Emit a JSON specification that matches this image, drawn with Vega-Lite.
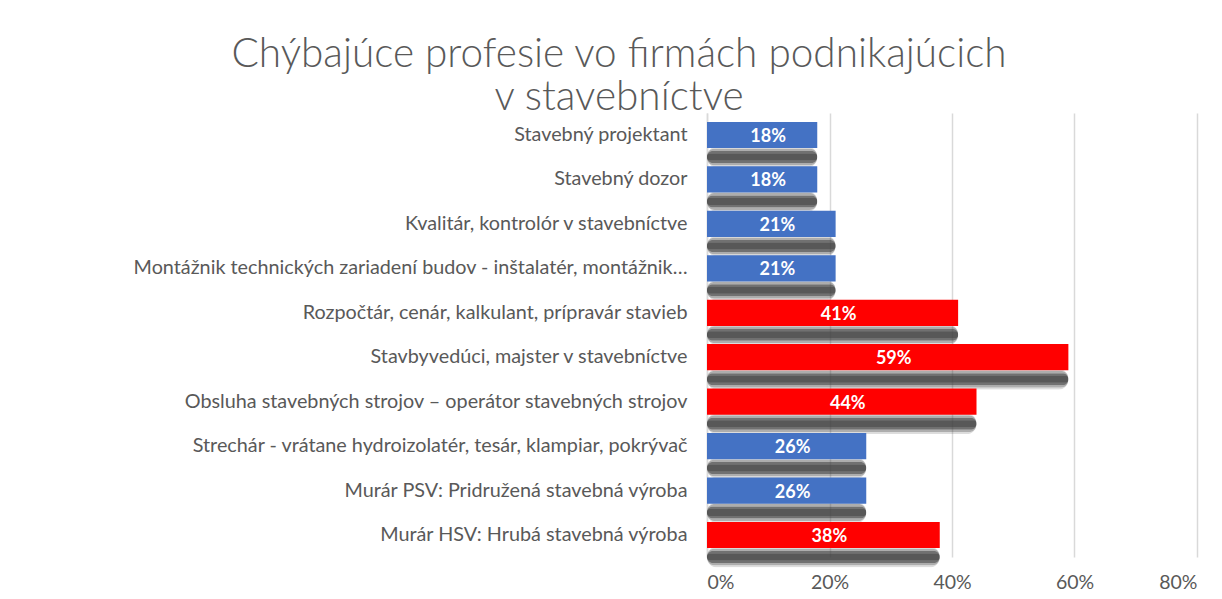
{
  "$schema": "https://vega.github.io/schema/vega-lite/v6.json",
  "width": 490,
  "height": 444,
  "autosize": {"type": "none"},
  "padding": {"left": 707, "top": 113, "right": 25, "bottom": 42},
  "background": "white",
  "config": {"view": {"stroke": null}},
  "title": {
    "text": ["Chýbajúce profesie vo firmách podnikajúcich", "v stavebníctve"],
    "font": "Lato",
    "fontWeight": 300,
    "fontSize": 40.5,
    "color": "#595959",
    "anchor": "middle",
    "dx": -333,
    "offset": -5,
    "lineHeight": 43
  },
  "data": {
    "values": [
      {"profesia": "Stavebný projektant", "hodnota": 0.18, "zvyraznene": "nie"},
      {"profesia": "Stavebný dozor", "hodnota": 0.18, "zvyraznene": "nie"},
      {"profesia": "Kvalitár, kontrolór v stavebníctve", "hodnota": 0.21, "zvyraznene": "nie"},
      {"profesia": "Montážnik technických zariadení budov - inštalatér, montážnik…", "hodnota": 0.21, "zvyraznene": "nie"},
      {"profesia": "Rozpočtár, cenár, kalkulant, prípravár stavieb", "hodnota": 0.41, "zvyraznene": "áno"},
      {"profesia": "Stavbyvedúci, majster v stavebníctve", "hodnota": 0.59, "zvyraznene": "áno"},
      {"profesia": "Obsluha stavebných strojov – operátor stavebných strojov", "hodnota": 0.44, "zvyraznene": "áno"},
      {"profesia": "Strechár - vrátane hydroizolatér, tesár, klampiar, pokrývač", "hodnota": 0.26, "zvyraznene": "nie"},
      {"profesia": "Murár PSV: Pridružená stavebná výroba", "hodnota": 0.26, "zvyraznene": "nie"},
      {"profesia": "Murár HSV: Hrubá stavebná výroba", "hodnota": 0.38, "zvyraznene": "áno"}
    ]
  },
  "encoding": {
    "y": {
      "field": "profesia",
      "type": "nominal",
      "sort": null,
      "scale": {"paddingInner": 0.41, "paddingOuter": 0.2},
      "axis": {
        "title": null,
        "labelFont": "Lato",
        "labelFontSize": 19.8,
        "labelColor": "#595959",
        "labelPadding": 20,
        "labelLimit": 700,
        "ticks": false,
        "domain": true,
        "domainColor": "#d9d9d9",
        "domainWidth": 1.5
      }
    }
  },
  "layer": [
    {
      "mark": {"type": "bar", "height": 21, "yOffset": 22, "color": "#404040", "opacity": 0.18, "cornerRadius": 10},
      "encoding": {
        "x": {
          "field": "hodnota",
          "type": "quantitative",
          "scale": {"domain": [0, 0.8], "nice": false},
          "axis": {
            "title": null,
            "format": ".0%",
            "values": [0, 0.2, 0.4, 0.6, 0.8],
            "labelFont": "Lato",
            "labelFontSize": 19.5,
            "labelColor": "#595959",
            "labelPadding": 16,
            "grid": true,
            "gridColor": "#d9d9d9",
            "gridWidth": 1.5,
            "domain": false,
            "ticks": false
          }
        }
      }
    },
    {
      "mark": {"type": "bar", "height": 17, "yOffset": 22, "color": "#404040", "opacity": 0.3, "cornerRadius": 8},
      "encoding": {"x": {"field": "hodnota", "type": "quantitative"}}
    },
    {
      "mark": {"type": "bar", "height": 12, "yOffset": 22, "color": "#404040", "opacity": 0.55, "cornerRadius": 6},
      "encoding": {"x": {"field": "hodnota", "type": "quantitative"}}
    },
    {
      "mark": {"type": "bar", "height": 7, "yOffset": 22, "color": "#404040", "opacity": 0.5, "cornerRadius": 3},
      "encoding": {"x": {"field": "hodnota", "type": "quantitative"}}
    },
    {
      "mark": {"type": "bar"},
      "encoding": {
        "x": {"field": "hodnota", "type": "quantitative"},
        "color": {
          "field": "zvyraznene",
          "type": "nominal",
          "scale": {"domain": ["nie", "áno"], "range": ["#4472C4", "#FF0000"]},
          "legend": null
        }
      }
    },
    {
      "transform": [{"calculate": "datum.hodnota / 2", "as": "stred"}],
      "mark": {"type": "text", "font": "Lato", "fontWeight": "bold", "fontSize": 18, "color": "white", "align": "center", "baseline": "middle", "dx": 6, "dy": 2},
      "encoding": {
        "x": {"field": "stred", "type": "quantitative"},
        "text": {"field": "hodnota", "type": "quantitative", "format": ".0%"}
      }
    }
  ]
}
